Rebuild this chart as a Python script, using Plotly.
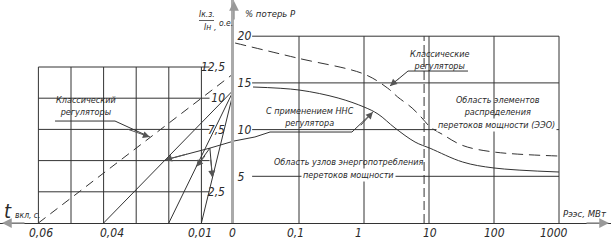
import numpy as np
import plotly.graph_objects as go

# ---------------- data ----------------
# Left nomogram: switching time t (s) vs short-circuit current multiple Ik/In (o.e.)
t_ticks = [0.06, 0.04, 0.01, 0.0]
t_tick_text = ["0,06", "0,04", "0,01", "0"]
t_tick_shift = [3, 8, -1, -2]
t_grid = [0.06, 0.05, 0.04, 0.03, 0.02, 0.01]
ik_grid = [2.5, 5.0, 7.5, 10.0, 12.5]
ik_ticks = [2.5, 7.5, 10.0, 12.5]
ik_tick_text = ["2,5", "7,5", "10", "12,5"]
classic_ray_t = [0.06, 0.0]
classic_ray_ik = [0.0, 12.0]
nns_ray_t0 = [0.04, 0.02, 0.01]
nns_ray_ik_end = 10.7

# Right chart: P_EES (MW) vs % of losses P
p_ticks = [0.1, 1, 10, 100, 1000]
p_tick_text = ["0,1", "1", "10", "100", "1000"]
p_tick_shift = [-4, -6, 1, 0, -5]
p_grid = [0.1, 1, 10, 100, 1000]
p_boundary = 8.4
loss_grid = [5, 10, 15, 20]
loss_tick_text = ["5", "10", "15", "20"]

classic_p = [0.0104, 0.093, 1.0, 2.3, 3.3, 5.5, 7.8, 10.4, 16, 33, 100, 1000]
classic_loss = [19.27, 17.67, 15.95, 14.45, 13.49, 12.31, 11.24, 10.28, 9.5, 8.3, 7.6, 7.17]
nns_p = [0.0196, 0.1, 0.4, 1.0, 1.64, 3.0, 6.1, 10.4, 33, 100, 1000]
nns_loss = [14.56, 14.24, 13.38, 12.42, 11.67, 10.17, 8.67, 8.0, 6.53, 5.89, 5.46]

# ---------------- figure ----------------
W, H = 611, 243
LEFT = 234 / W
YDOM = [20 / H, 1]
FONT = "Liberation Sans Narrow, DejaVu Sans Condensed, sans-serif"
TXT = "#2a2a2a"
LINE = "#333333"

fig = go.Figure()


def seg_trace(xs, ys, axes, dash=None, width=1, color=LINE, shape="linear"):
    xa, ya = axes
    fig.add_trace(go.Scatter(x=xs, y=ys, mode="lines", xaxis=xa, yaxis=ya,
                             line=dict(color=color, width=width, dash=dash, shape=shape),
                             hoverinfo="skip", showlegend=False))


def grid_lines(vals, lo, hi, vertical):
    xs, ys = [], []
    for v in vals:
        if vertical:
            xs += [v, v, None]
            ys += [lo, hi, None]
        else:
            xs += [lo, hi, None]
            ys += [v, v, None]
    return xs, ys


L = ("x", "y")
R = ("x2", "y2")

# left grid
gx, gy = grid_lines(ik_grid, t_grid[0], 0.0075, vertical=False)
seg_trace(gx, gy, L)
gx, gy = grid_lines(t_grid, 0, ik_grid[-1], vertical=True)
seg_trace(gx, gy, L)

# left rays
seg_trace(classic_ray_t, classic_ray_ik, L, dash="9px,6px")
for t0 in nns_ray_t0:
    seg_trace([t0, 0.0], [0.0, nns_ray_ik_end], L)

# right grid
gx, gy = grid_lines(loss_grid, 0.019, p_grid[-1], vertical=False)
seg_trace(gx, gy, R)
gx, gy = grid_lines(p_grid, 0, loss_grid[-1], vertical=True)
seg_trace(gx, gy, R)
seg_trace([p_boundary, p_boundary], [0, loss_grid[-1]], R, dash="9px,4px")

# right curves
seg_trace(classic_p, classic_loss, R, dash="11px,6px", shape="spline")
seg_trace(nns_p, nns_loss, R, shape="spline")

# leader lines
seg_trace([0.0549, 0.0365, 0.0258], [8.17, 8.17, 6.89], L)                 # left "Классический"
seg_trace([39.8, 4.75, 2.51], [16.27, 16.27, 14.67], R)                    # right "Классические"
seg_trace([1.37, 0.653, 0.0358, 0.021, 0.0095], [11.88, 9.74, 9.74, 9.21, 8.75], R)  # NNS right part
seg_trace([0.0, 0.0074, 0.0212], [6.57, 6.0, 5.05], L)                     # NNS left part
seg_trace([0.0116, 0.0074, 0.0066], [4.5, 6.0, 3.64], L)                   # NNS branches

annotations = []


def arrow(x, y, ax, ay, xref, yref, color="#555", size=1.4):
    annotations.append(dict(x=x, y=y, ax=ax, ay=ay, xref=xref, yref=yref,
                            axref=xref, ayref=yref, text="", showarrow=True,
                            arrowhead=2, arrowsize=size, arrowwidth=1,
                            arrowcolor=color, standoff=0))


def lg(p):
    return float(np.log10(p))


arrow(0.0258, 6.89, 0.0330, 7.55, "x", "y")
arrow(lg(2.51), 14.67, lg(3.6), 15.6, "x2", "y2")
arrow(lg(1.37), 11.88, lg(0.85), 10.3, "x2", "y2")
arrow(0.0212, 5.05, 0.0140, 5.55, "x", "y")
arrow(0.0116, 4.5, 0.0085, 5.5, "x", "y")
arrow(0.0066, 3.64, 0.0072, 5.2, "x", "y")

# axis arrows (paper)
for (x, y, ax, ay) in [(234 / W, 1 - 1 / H, 0, 20), (2 / W, 1 - 223 / H, 24, 0),
                       (609 / W, 1 - 223 / H, -24, 0)]:
    annotations.append(dict(x=x, y=y, xref="paper", yref="paper", ax=ax, ay=ay,
                            text="", showarrow=True, arrowhead=2, arrowsize=1.3,
                            arrowwidth=1.5, arrowcolor="#999", standoff=0))


def txt(text, x, y, xref, yref, size=9, bg=None, xanchor="center", yanchor="middle", xshift=0):
    d = dict(text=text, x=x, y=y, xref=xref, yref=yref, showarrow=False,
             xanchor=xanchor, yanchor=yanchor, xshift=xshift,
             font=dict(family=FONT, size=size, color=TXT, style="italic"))
    if bg:
        d.update(bgcolor=bg, borderpad=1)
    annotations.append(d)


# bottom tick labels
TICK_Y = 1 - 233 / H
for v, s, sh in zip(t_ticks, t_tick_text, t_tick_shift):
    txt(s, v, TICK_Y, "x", "paper", size=12, xshift=sh)
for v, s, sh in zip(p_ticks, p_tick_text, p_tick_shift):
    txt(s, lg(v), TICK_Y, "x2", "paper", size=12, xshift=sh)

# chart texts (data coords)
txt("Классический<br>регуляторы", 0.0455, 9.35, "x", "y")
txt("Классические<br>регуляторы", lg(4.0), 17.4, "x2", "y2", xshift=36)
txt("С применением ННС<br>регулятора", lg(0.133), 11.35, "x2", "y2", xshift=3)
txt("Область узлов энергопотребления", lg(0.587), 6.55, "x2", "y2")
txt("перетоков мощности", lg(0.575), 5.1, "x2", "y2", bg="white")
txt("Область элементов<br>распределения", lg(115), 12.5, "x2", "y2")
txt("перетоков мощности (ЭЭО)", lg(111), 10.45, "x2", "y2", bg="white")

# axis titles (paper)
txt("% потерь P", 243 / W, 1 - 14 / H, "paper", "paper", size=9.5, xanchor="left")
txt("Pээс, МВт", 609 / W, 1 - 213 / H, "paper", "paper", size=9.5, xanchor="right")
txt("t", 8 / W, 1 - 211 / H, "paper", "paper", size=20)
txt("вкл, с.", 13 / W, 1 - 215 / H, "paper", "paper", size=8.5, xanchor="left")
txt("Iк.з.", 207 / W, 1 - 14 / H, "paper", "paper", size=8.5)
txt("Iн", 207 / W, 1 - 27 / H, "paper", "paper", size=8.5)
txt(",", 215 / W, 1 - 27 / H, "paper", "paper", size=8.5)
txt("о.е.", 226 / W, 1 - 23 / H, "paper", "paper", size=8.5)

fig.add_shape(type="line", xref="paper", yref="paper", x0=199 / W, x1=214 / W,
              y0=1 - 20.5 / H, y1=1 - 20.5 / H, line=dict(color=LINE, width=0.8))

tickfont = dict(family=FONT, size=12, color=TXT, style="italic")

fig.update_layout(
    width=W, height=H, margin=dict(l=0, r=0, t=0, b=0),
    paper_bgcolor="white", plot_bgcolor="rgba(0,0,0,0)",
    showlegend=False, annotations=annotations,
    xaxis=dict(domain=[0, LEFT], range=[234 / 3260, 0], anchor="y",
               showgrid=False, zeroline=False, showline=True, linecolor=LINE, linewidth=1,
               showticklabels=False, ticks=""),
    yaxis=dict(domain=YDOM, range=[0, 223 / 12.48], anchor="x", side="right",
               showgrid=False, zeroline=False, showline=False,
               tickvals=ik_ticks, ticktext=ik_tick_text, ticks="",
               ticklabelposition="inside", ticklabelstandoff=6, tickfont=tickfont),
    xaxis2=dict(domain=[LEFT, 1], type="log", range=[-2, -2 + 377 / 65], anchor="y2",
                showgrid=False, zeroline=False, showline=True, linecolor=LINE, linewidth=1,
                showticklabels=False, ticks=""),
    yaxis2=dict(domain=YDOM, range=[0, 223 / 9.34], anchor="x2", side="left",
                showgrid=False, zeroline=False, showline=True, linecolor="#aaaaaa", linewidth=3,
                tickvals=loss_grid, ticktext=loss_tick_text, ticks="",
                ticklabelposition="inside", ticklabelstandoff=3, tickfont=tickfont),
)

fig.write_html("out.html")
